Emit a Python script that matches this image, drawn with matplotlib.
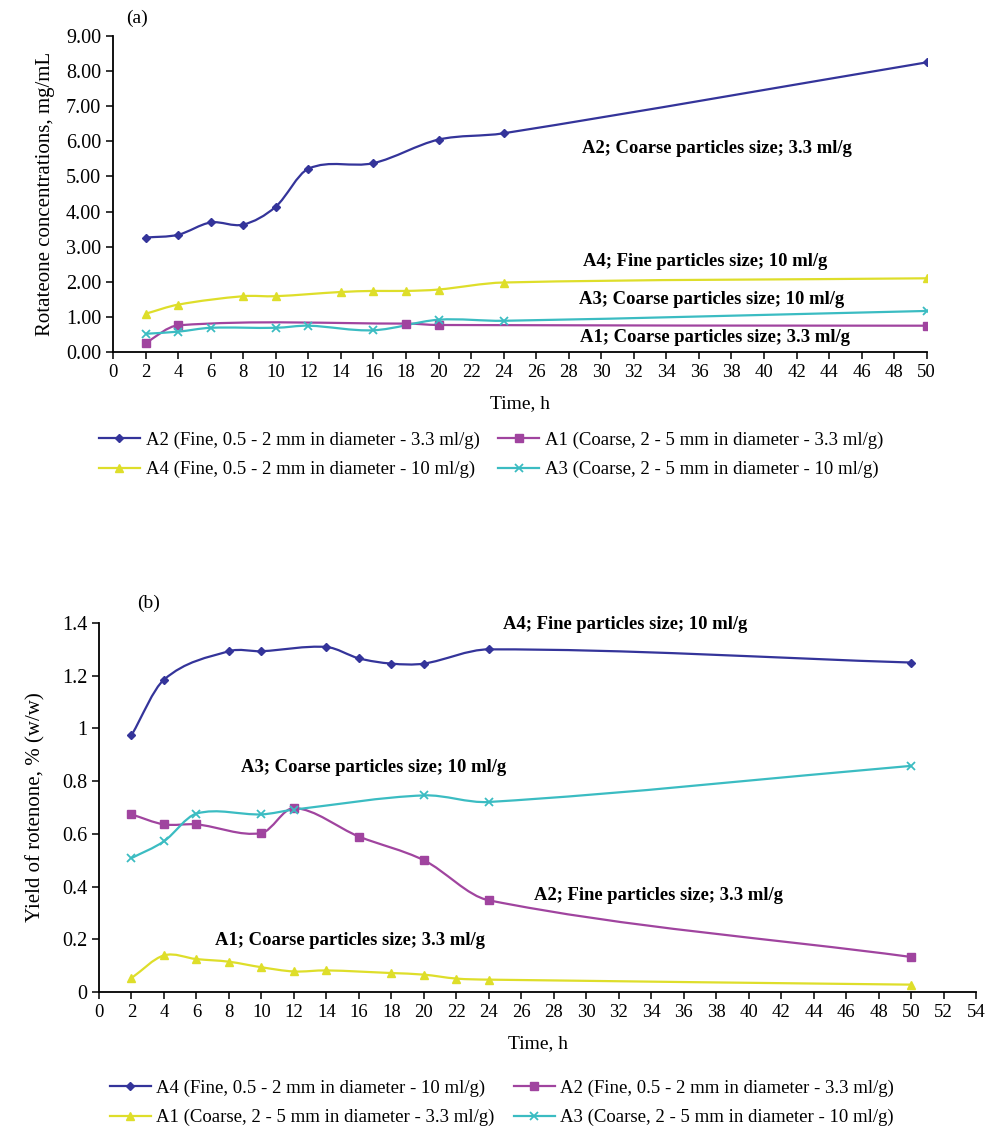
import numpy as np
import matplotlib.pyplot as plt
from matplotlib.path import Path
from matplotlib.patches import PathPatch
from matplotlib.lines import Line2D

plt.rcParams['font.family'] = ['Liberation Serif', 'DejaVu Serif']

# ---- (a) Rotenone concentration, mg/mL ----
a_A2_t = [2, 4, 6, 8, 10, 12, 16, 20, 24, 50]
a_A2_v = [3.26, 3.34, 3.69, 3.63, 4.14, 5.22, 5.38, 6.05, 6.23, 8.25]
a_A1_t = [2, 4, 18, 20, 50]
a_A1_v = [0.26, 0.76, 0.81, 0.77, 0.75]
a_A4_t = [2, 4, 8, 10, 14, 16, 18, 20, 24, 50]
a_A4_v = [1.09, 1.35, 1.59, 1.59, 1.71, 1.74, 1.74, 1.78, 1.98, 2.10]
a_A3_t = [2, 4, 6, 10, 12, 16, 20, 24, 50]
a_A3_v = [0.52, 0.58, 0.69, 0.69, 0.75, 0.62, 0.92, 0.89, 1.17]

# ---- (b) Yield of rotenone, % (w/w) ----
b_A4_t = [2, 4, 8, 10, 14, 16, 18, 20, 24, 50]
b_A4_v = [0.974, 1.185, 1.293, 1.293, 1.309, 1.266, 1.246, 1.246, 1.30, 1.25]
b_A2_t = [2, 4, 6, 10, 12, 16, 20, 24, 50]
b_A2_v = [0.674, 0.636, 0.636, 0.603, 0.698, 0.59, 0.50, 0.348, 0.133]
b_A1_t = [2, 4, 6, 8, 10, 12, 14, 18, 20, 22, 24, 50]
b_A1_v = [0.053, 0.139, 0.125, 0.115, 0.094, 0.078, 0.082, 0.072, 0.066, 0.051, 0.047, 0.028]
b_A3_t = [2, 4, 6, 10, 12, 20, 24, 50]
b_A3_v = [0.508, 0.572, 0.677, 0.674, 0.692, 0.746, 0.721, 0.858]

NAVY = '#34349a'
MAGENTA = '#a0449f'
YELLOW = '#dede2a'
CYAN = '#3bbcc2'


# smoothed line like Excel: cubic Bezier segments (Hermite in x) through the points
def smooth_path(x, y):
    x = np.asarray(x, float)
    y = np.asarray(y, float)
    n = len(x)
    m = np.empty(n)
    m[0] = (y[1] - y[0]) / (x[1] - x[0])
    m[-1] = (y[-1] - y[-2]) / (x[-1] - x[-2])
    m[1:-1] = (y[2:] - y[:-2]) / (x[2:] - x[:-2])
    verts = [(x[0], y[0])]
    codes = [Path.MOVETO]
    for i in range(n - 1):
        h = (x[i + 1] - x[i]) / 3.0
        verts += [(x[i] + h, y[i] + h * m[i]),
                  (x[i + 1] - h, y[i + 1] - h * m[i + 1]),
                  (x[i + 1], y[i + 1])]
        codes += [Path.CURVE4] * 3
    return Path(verts, codes)


def draw_series(ax, x, y, color, marker, ms):
    ax.add_patch(PathPatch(smooth_path(x, y), fill=False, edgecolor=color, lw=1.6, zorder=2))
    mew = 1.3 if marker == 'x' else 1.0
    ax.plot(x, y, ls='none', marker=marker, color=color, ms=ms, mew=mew, zorder=3)


def handle(color, marker, ms):
    mew = 1.3 if marker == 'x' else 1.0
    return Line2D([], [], color=color, lw=1.6, marker=marker, ms=ms, mew=mew)


def style_axes(ax):
    for s in ['top', 'right']:
        ax.spines[s].set_visible(False)
    for s in ['left', 'bottom']:
        ax.spines[s].set_linewidth(1.3)
    ax.tick_params(direction='out', length=5, width=1.1)
    ax.tick_params(axis='x', labelsize=13.5)
    ax.tick_params(axis='y', labelsize=14.5)


fig = plt.figure(figsize=(9.88, 11.40), dpi=100)

# ---------- panel (a) ----------
ax1 = fig.add_axes([0.1144, 0.6912, 0.8236, 0.2772])
draw_series(ax1, a_A2_t, a_A2_v, NAVY, 'D', 4.5)
draw_series(ax1, a_A1_t, a_A1_v, MAGENTA, 's', 6)
draw_series(ax1, a_A4_t, a_A4_v, YELLOW, '^', 6)
draw_series(ax1, a_A3_t, a_A3_v, CYAN, 'x', 6)
ax1.set_xlim(0, 50)
ax1.set_ylim(0, 9)
ax1.set_xticks(np.arange(0, 51, 2))
ax1.set_yticks(np.arange(0, 9.01, 1))
ax1.yaxis.set_major_formatter(plt.FormatStrFormatter('%.2f'))
style_axes(ax1)
ax1.set_xlabel('Time, h', fontsize=14, labelpad=10)
ax1.set_ylabel('Rotateone concentrations, mg/mL', fontsize=15, labelpad=8)

lab_a = dict(fontsize=13.4, fontweight='bold', ha='center', va='center')
ax1.text(37.1, 5.81, 'A2; Coarse particles size; 3.3 ml/g', **lab_a)
ax1.text(36.4, 2.59, 'A4; Fine particles size; 10 ml/g', **lab_a)
ax1.text(36.8, 1.50, 'A3; Coarse particles size; 10 ml/g', **lab_a)
ax1.text(37.0, 0.42, 'A1; Coarse particles size; 3.3 ml/g', **lab_a)
fig.text(0.139, 0.984, '(a)', fontsize=14, ha='center', va='center')

h_a = [handle(NAVY, 'D', 4.5), handle(YELLOW, '^', 6), handle(MAGENTA, 's', 6), handle(CYAN, 'x', 6)]
l_a = ['A2 (Fine, 0.5 - 2 mm in diameter - 3.3 ml/g)',
       'A4 (Fine, 0.5 - 2 mm in diameter - 10 ml/g)',
       'A1 (Coarse, 2 - 5 mm in diameter - 3.3 ml/g)',
       'A3 (Coarse, 2 - 5 mm in diameter - 10 ml/g)']
fig.legend(h_a, l_a, ncol=2, loc='center', bbox_to_anchor=(0.497, 0.601), frameon=False,
           fontsize=13.5, handlelength=2.2, handletextpad=0.3, columnspacing=1.0, labelspacing=0.65)

# ---------- panel (b) ----------
ax2 = fig.add_axes([0.1002, 0.1298, 0.8877, 0.3237])
draw_series(ax2, b_A4_t, b_A4_v, NAVY, 'D', 4.5)
draw_series(ax2, b_A2_t, b_A2_v, MAGENTA, 's', 6)
draw_series(ax2, b_A1_t, b_A1_v, YELLOW, '^', 6)
draw_series(ax2, b_A3_t, b_A3_v, CYAN, 'x', 6)
ax2.set_xlim(0, 54)
ax2.set_ylim(0, 1.4)
ax2.set_xticks(np.arange(0, 55, 2))
ax2.set_yticks(np.arange(0, 1.41, 0.2))
ax2.set_yticklabels(['0', '0.2', '0.4', '0.6', '0.8', '1', '1.2', '1.4'])
style_axes(ax2)
ax2.set_xlabel('Time, h', fontsize=14, labelpad=10)
ax2.set_ylabel('Yield of rotenone, % (w/w)', fontsize=15, labelpad=12)

ax2.text(32.4, 1.393, 'A4; Fine particles size; 10 ml/g', **lab_a)
ax2.text(16.9, 0.851, 'A3; Coarse particles size; 10 ml/g', **lab_a)
ax2.text(34.45, 0.365, 'A2; Fine particles size; 3.3 ml/g', **lab_a)
ax2.text(15.45, 0.195, 'A1; Coarse particles size; 3.3 ml/g', **lab_a)
fig.text(0.150, 0.471, '(b)', fontsize=14, ha='center', va='center')

h_b = [handle(NAVY, 'D', 4.5), handle(YELLOW, '^', 6), handle(MAGENTA, 's', 6), handle(CYAN, 'x', 6)]
l_b = ['A4 (Fine, 0.5 - 2 mm in diameter - 10 ml/g)',
       'A1 (Coarse, 2 - 5 mm in diameter - 3.3 ml/g)',
       'A2 (Fine, 0.5 - 2 mm in diameter - 3.3 ml/g)',
       'A3 (Coarse, 2 - 5 mm in diameter - 10 ml/g)']
fig.legend(h_b, l_b, ncol=2, loc='center', bbox_to_anchor=(0.508, 0.0325), frameon=False,
           fontsize=13.5, handlelength=2.2, handletextpad=0.3, columnspacing=1.0, labelspacing=0.65)

plt.savefig('out.png', dpi=100)
